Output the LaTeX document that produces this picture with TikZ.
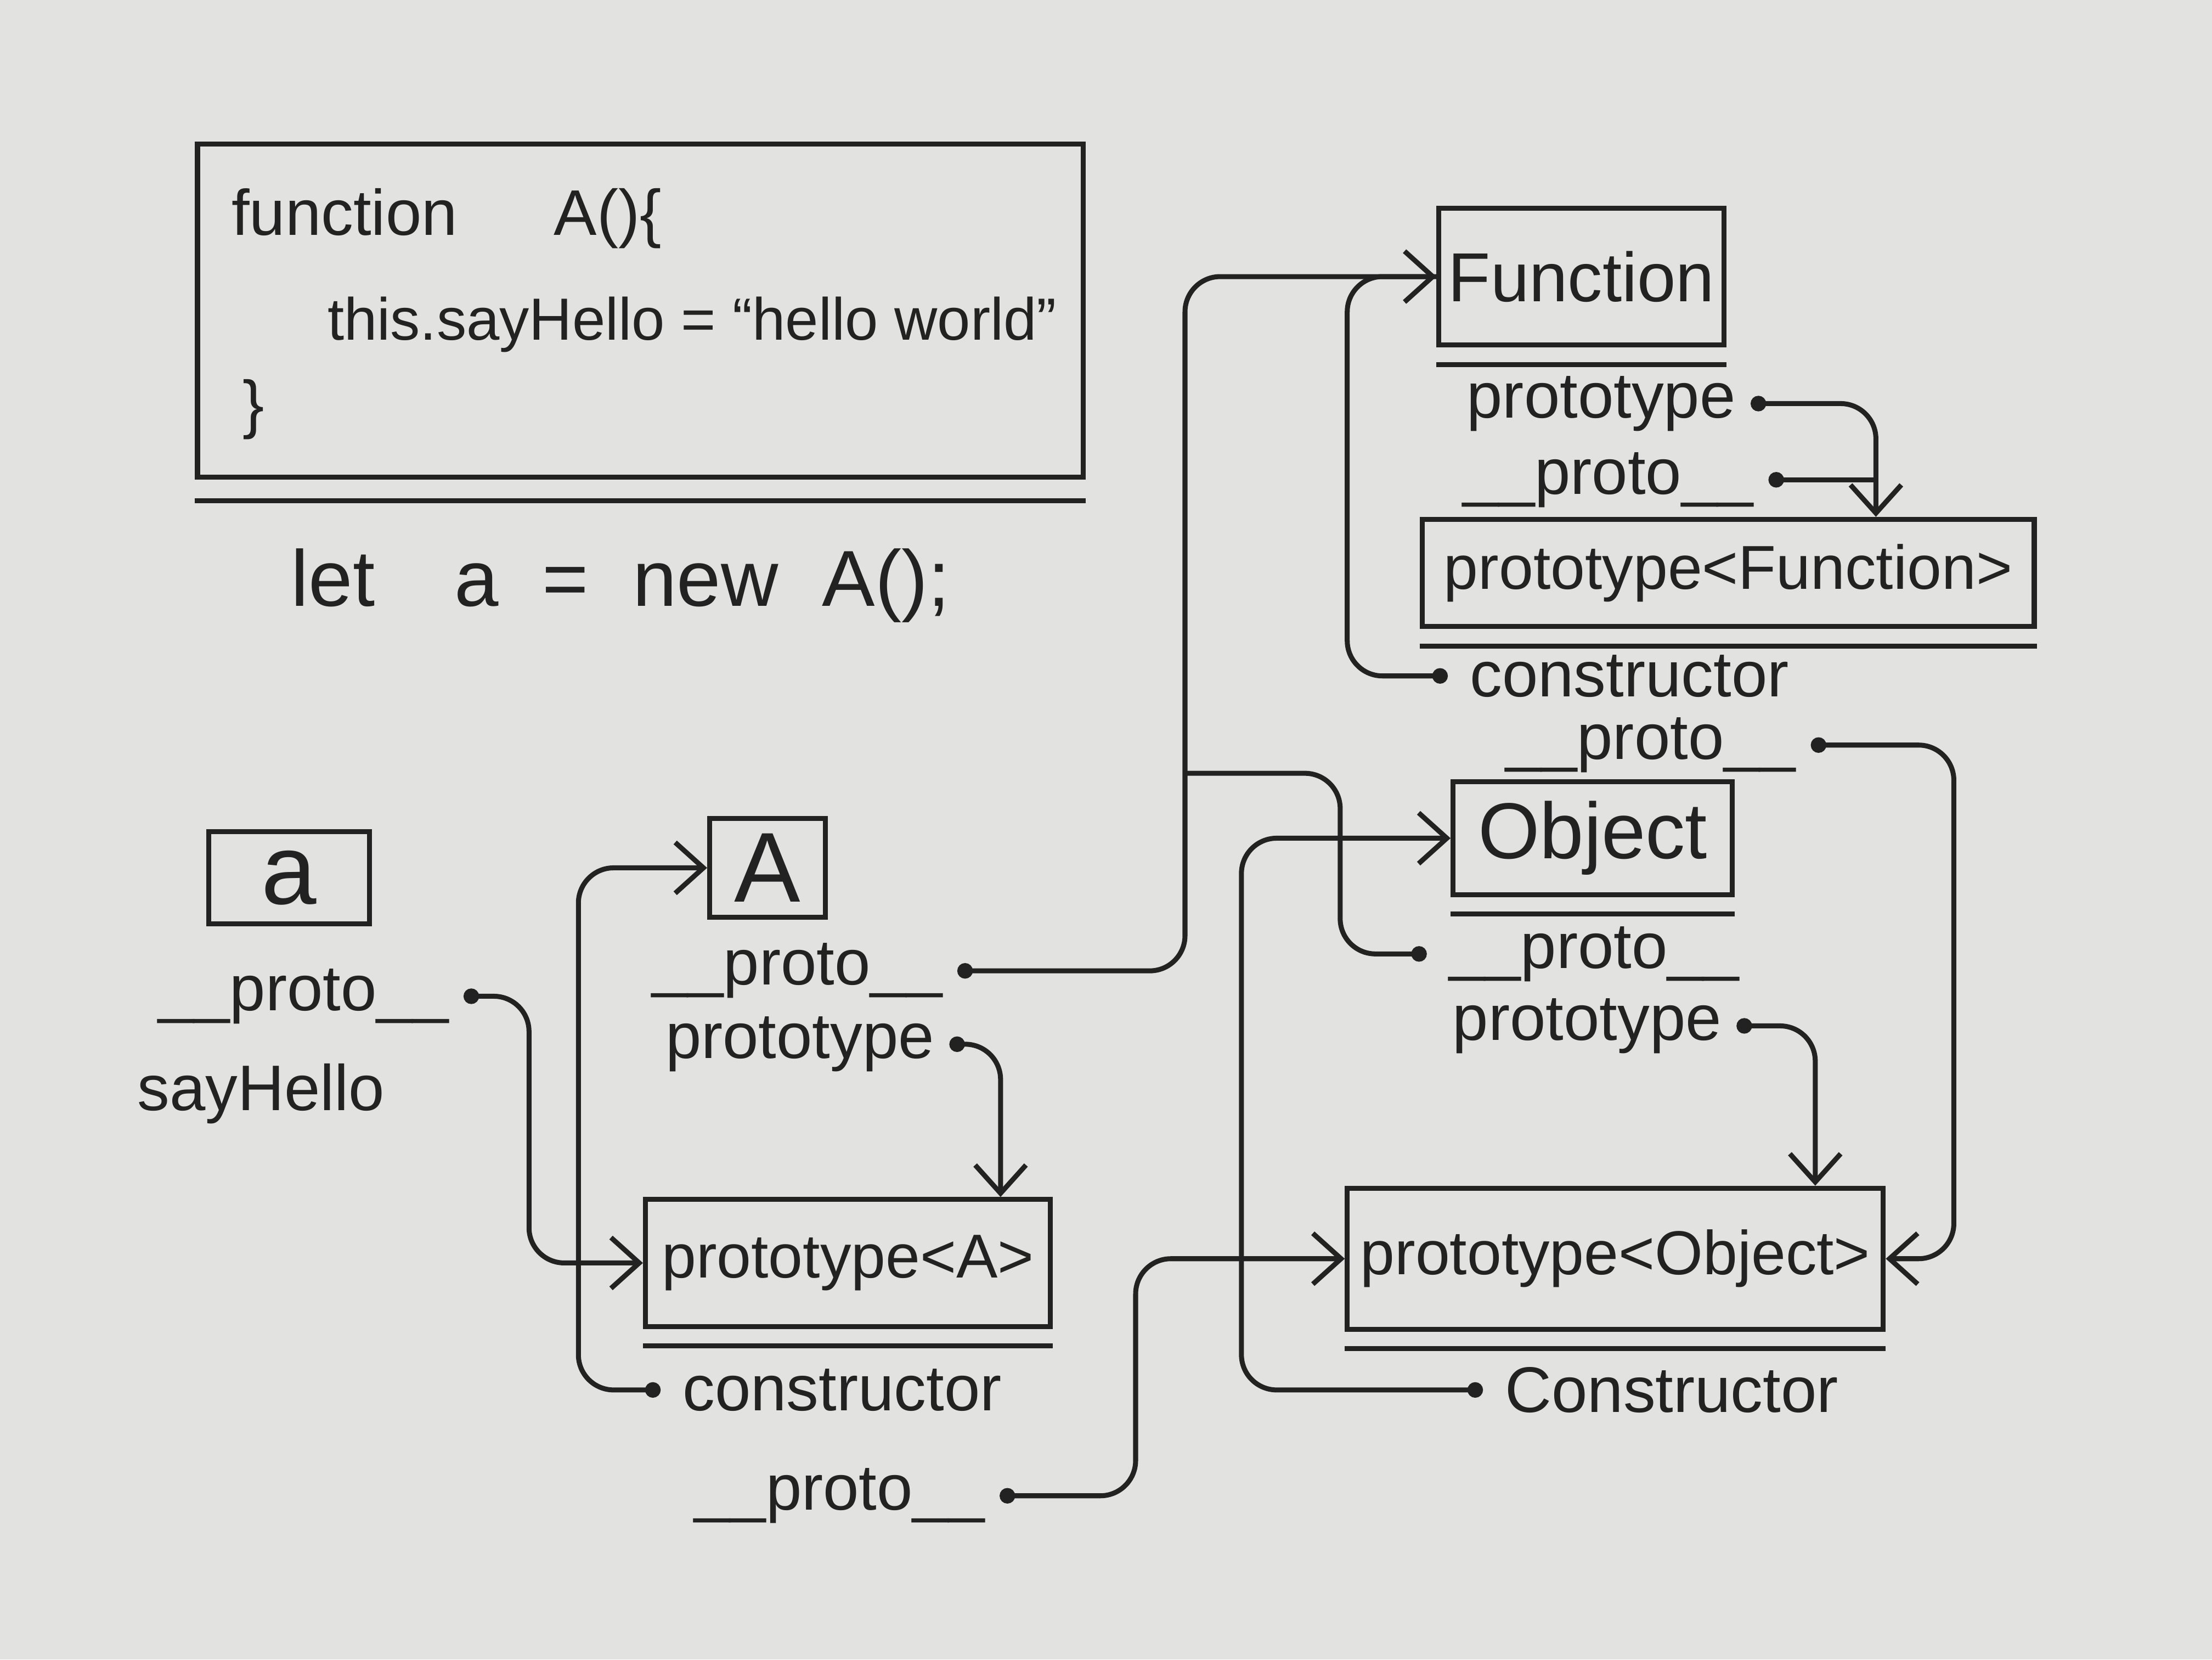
\documentclass[tikz,border=0pt]{standalone}
\usepackage{fontspec}
\setmainfont{Liberation Sans}
\usepackage{tikz}
\usetikzlibrary{arrows.meta, positioning, calc}
\definecolor{myink}{RGB}{34,34,34}
\definecolor{mypaper}{RGB}{226,226,224}
\tikzset{
  objbox/.style={rectangle, draw=myink, text=myink, line width=1pt,
    inner sep=0pt, font=\fontsize{16}{18}\selectfont},
  protobox/.style={rectangle, draw=myink, text=myink, line width=1pt,
    inner sep=0pt, font=\fontsize{12.5}{15}\selectfont},
  codetext/.style={text=myink, inner sep=1pt, font=\fontsize{12}{14}\selectfont},
  prop/.style={text=myink, inner sep=0pt, font=\fontsize{13}{15}\selectfont},
  link/.style={myink, line width=1pt, rounded corners=2.5mm,
    {Circle[length=1.1mm]}-{Straight Barb[length=2mm,width=3.6mm]}},
  joinlink/.style={myink, line width=1pt, rounded corners=2.5mm,
    {Circle[length=1.1mm]}-},
  underline/.style={myink, line width=1pt}
}

\begin{document}
\begin{tikzpicture}[x=0.1mm, y=-0.1mm]
  % paper
  \fill[mypaper] (0,0) rectangle (1568,1176);

  % code block
  \node[draw=myink, line width=1pt, minimum width=62.8mm, minimum height=23.6mm,
    inner sep=0pt] (code) at (454,220) {};
  \draw[underline] ([yshift=-1.5mm]code.south west) -- ([yshift=-1.5mm]code.south east);
  \node[codetext, anchor=west, font=\fontsize{13}{15}\selectfont] (cl1) at (160,155)
    {function\quad\enspace A()\{};
  \node[codetext, anchor=west] (cl2) at (228,230) {this.sayHello = “hello world”};
  \node[codetext, anchor=west, font=\fontsize{13}{15}\selectfont] (cl3) at (168,290) {\}};
  \node[codetext, font=\fontsize{16}{18}\selectfont] (letline) at (440,415)
    {let\quad a\ \ =\ \ new\ \ A();};

  % objects
  \node[objbox, minimum width=11.4mm, minimum height=6.5mm,
    font=\fontsize{20}{22}\selectfont] (avar) at (205,622) {a};
  \node[objbox, minimum width=8.2mm, minimum height=7mm,
    font=\fontsize{20}{22}\selectfont] (Afn) at (544,615) {A};
  \node[objbox, minimum width=20.2mm, minimum height=9.7mm,
    font=\fontsize{14}{16}\selectfont] (Func) at (1121,196) {Function};
  \node[protobox, minimum width=43.4mm, minimum height=7.6mm] (pFunc) at (1225,406) {prototype<Function>};
  \node[objbox, minimum width=19.8mm, minimum height=8mm] (Obj) at (1129,594) {Object};
  \node[protobox, minimum width=28.7mm, minimum height=9mm] (pA) at (601,895) {prototype<A>};
  \node[protobox, minimum width=38mm, minimum height=10mm] (pObj) at (1145,892) {prototype<Object>};
  \foreach \b in {Func, pFunc, Obj, pA, pObj}
    \draw[underline] ([yshift=-1.2mm]\b.south west) -- ([yshift=-1.2mm]\b.south east);

  % properties
  \node[prop] (aproto) at (215,706) {\_\_proto\_\_};
  \node[prop] (asay) at (185,775) {sayHello};
  \node[prop] (Aproto) at (565,688) {\_\_proto\_\_};
  \node[prop] (Aprot) at (567,740) {prototype};
  \node[prop] (pAcons) at (597,985) {constructor};
  \node[prop] (pAproto) at (595,1060) {\_\_proto\_\_};
  \node[prop] (Fprot) at (1135,286) {prototype};
  \node[prop] (Fproto) at (1140,340) {\_\_proto\_\_};
  \node[prop] (pFcons) at (1155,479) {constructor};
  \node[prop] (pFproto) at (1170,528) {\_\_proto\_\_};
  \node[prop] (Oproto) at (1130,676) {\_\_proto\_\_};
  \node[prop] (Oprot) at (1125,727) {prototype};
  \node[prop] (pOcons) at (1185,985) {Constructor};

  % junctions
  \coordinate (jO) at (840,548);
  \coordinate (pFtop) at ($(pFunc.north east)+(-114,0)$);

  % links
  \draw[link] ([xshift=1mm]aproto.east) -| (375,895) -- (pA.west);
  \draw[link] ([xshift=-1.5mm]pAcons.west) -| (410,615) -- (Afn.west);
  \draw[link] ([xshift=1mm]Aprot.east) -| ($(pA.north east)+(-37,0)$);
  \draw[joinlink] ([xshift=1mm]Aproto.east) -| (840,196) -- (Func.west);
  \draw[joinlink] ([xshift=-1.5mm]Oproto.west) -| (950,548) -- (jO);
  \draw[link] ([xshift=-1.5mm]pFcons.west) -| (955,196) -- (Func.west);
  \draw[link] ([xshift=1mm]Fprot.east) -| (pFtop);
  \draw[joinlink] ([xshift=1mm]Fproto.east) -- (Fproto.east -| pFtop);
  \draw[link] ([xshift=1mm]pFproto.east) -| (1385,892) -- (pObj.east);
  \draw[link] ([xshift=1mm]Oprot.east) -| ($(pObj.north east)+(-50,0)$);
  \draw[link] ([xshift=-1.5mm]pOcons.west) -| (880,594) -- (Obj.west);
  \draw[link] ([xshift=1mm]pAproto.east) -| (805,892) -- (pObj.west);
\end{tikzpicture}
\end{document}
